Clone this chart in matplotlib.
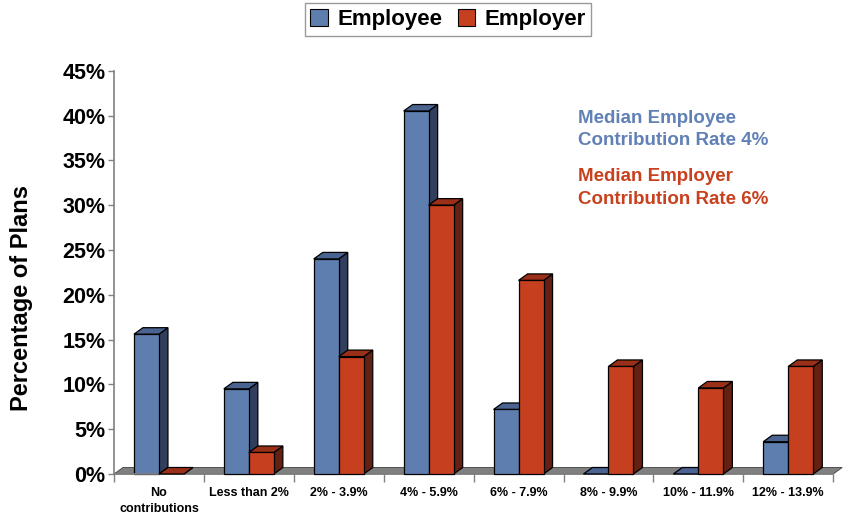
import matplotlib
matplotlib.use("Agg")
import matplotlib.pyplot as plt
from matplotlib.patches import Polygon, Patch

categories = ["No\ncontributions", "Less than 2%", "2% - 3.9%", "4% - 5.9%",
              "6% - 7.9%", "8% - 9.9%", "10% - 11.9%", "12% - 13.9%"]
employee = [15.6, 9.5, 24.0, 40.5, 7.2, 0.0, 0.0, 3.6]
employer = [0.0, 2.4, 13.1, 30.0, 21.6, 12.0, 9.6, 12.0]
yticks = [0, 5, 10, 15, 20, 25, 30, 35, 40, 45]
ytick_labels = ["0%", "5%", "10%", "15%", "20%", "25%", "30%", "35%", "40%", "45%"]

plt.rcParams['font.family'] = ['Liberation Sans', 'DejaVu Sans']

W, H = 843, 516
fig = plt.figure(figsize=(W / 100, H / 100), dpi=100)
x0, y0, ytop, cat_px = 114, 474, 70.7, 89.9
ax = fig.add_axes([x0 / W, (H - y0) / H, 8 * cat_px / W, (y0 - ytop) / H])
ax.set_xlim(0, 8)
ax.set_ylim(0, 45)

dx = 9 / cat_px
dy = 6.5 * 45 / (y0 - ytop)
bw = 25 / cat_px

blue = dict(front="#5F7EB0", side="#323F5C", top="#4A6390")
red = dict(front="#C6401F", side="#632013", top="#9B3018")
edge_kw = dict(edgecolor="black", linewidth=0.9, clip_on=False)

# floor
ax.add_patch(Polygon([(0, 0), (8, 0), (8 + dx, dy), (dx, dy)], closed=True,
                     facecolor="#808080", edgecolor="#404040", linewidth=0.6,
                     clip_on=False, zorder=1))


def bar3d(x, h, c, z):
    ax.add_patch(Polygon([(x + bw, 0), (x + bw + dx, dy), (x + bw + dx, h + dy), (x + bw, h)],
                         closed=True, facecolor=c["side"], zorder=z, **edge_kw))
    ax.add_patch(Polygon([(x, h), (x + dx, h + dy), (x + bw + dx, h + dy), (x + bw, h)],
                         closed=True, facecolor=c["top"], zorder=z, **edge_kw))
    if h > 0:
        ax.add_patch(Polygon([(x, 0), (x + bw, 0), (x + bw, h), (x, h)],
                             closed=True, facecolor=c["front"], zorder=z, **edge_kw))


z = 2
for i, (e, r) in enumerate(zip(employee, employer)):
    center = i + 0.5
    bar3d(center - bw, e, blue, z)
    z += 1
    bar3d(center, r, red, z)
    z += 1

for s in ["top", "right"]:
    ax.spines[s].set_visible(False)
ax.spines["left"].set_color("#808080")
ax.spines["bottom"].set_color("#808080")
ax.spines["left"].set_linewidth(1.2)
ax.spines["bottom"].set_linewidth(1.2)
ax.spines["left"].set_zorder(0.5)

ax.set_yticks(yticks)
ax.set_yticklabels(ytick_labels, fontsize=15.5, fontweight="bold")
ax.tick_params(axis="y", length=4, width=1, color="#808080", pad=2)

ax.set_xticks(range(9))
ax.set_xticklabels([])
ax.tick_params(axis="x", which="major", length=6, width=1, color="#808080", direction="out")
ax.set_xticks([i + 0.5 for i in range(8)], minor=True)
ax.set_xticklabels(categories, minor=True, fontsize=9, fontweight="bold", linespacing=1.5)
ax.tick_params(axis="x", which="minor", length=0, pad=9)

fig.text(22 / W, 1 - 298 / H, "Percentage of Plans", rotation=90, fontsize=17,
         fontweight="bold", ha="center", va="center")

fig.text(578 / W, 1 - 129.5 / H, "Median Employee\nContribution Rate 4%", fontsize=13.5,
         fontweight="bold", color="#6080B6", ha="left", va="center", linespacing=1.45)
fig.text(578 / W, 1 - 188 / H, "Median Employer\nContribution Rate 6%", fontsize=13.5,
         fontweight="bold", color="#C8401E", ha="left", va="center", linespacing=1.45)

handles = [Patch(facecolor=blue["front"], edgecolor="black", linewidth=0.8, label="Employee"),
           Patch(facecolor=red["front"], edgecolor="black", linewidth=0.8, label="Employer")]
leg = fig.legend(handles=handles, loc="center", bbox_to_anchor=(448 / W, 1 - 19.5 / H),
                 ncol=2, frameon=True, fancybox=False, prop=dict(size=16, weight="bold"),
                 handlelength=0.8, handleheight=0.8, handletextpad=0.4, columnspacing=0.7,
                 borderpad=0.25, borderaxespad=0)
leg.get_frame().set_edgecolor("#808080")
leg.get_frame().set_linewidth(1.0)

fig.savefig("out.png", dpi=100)
